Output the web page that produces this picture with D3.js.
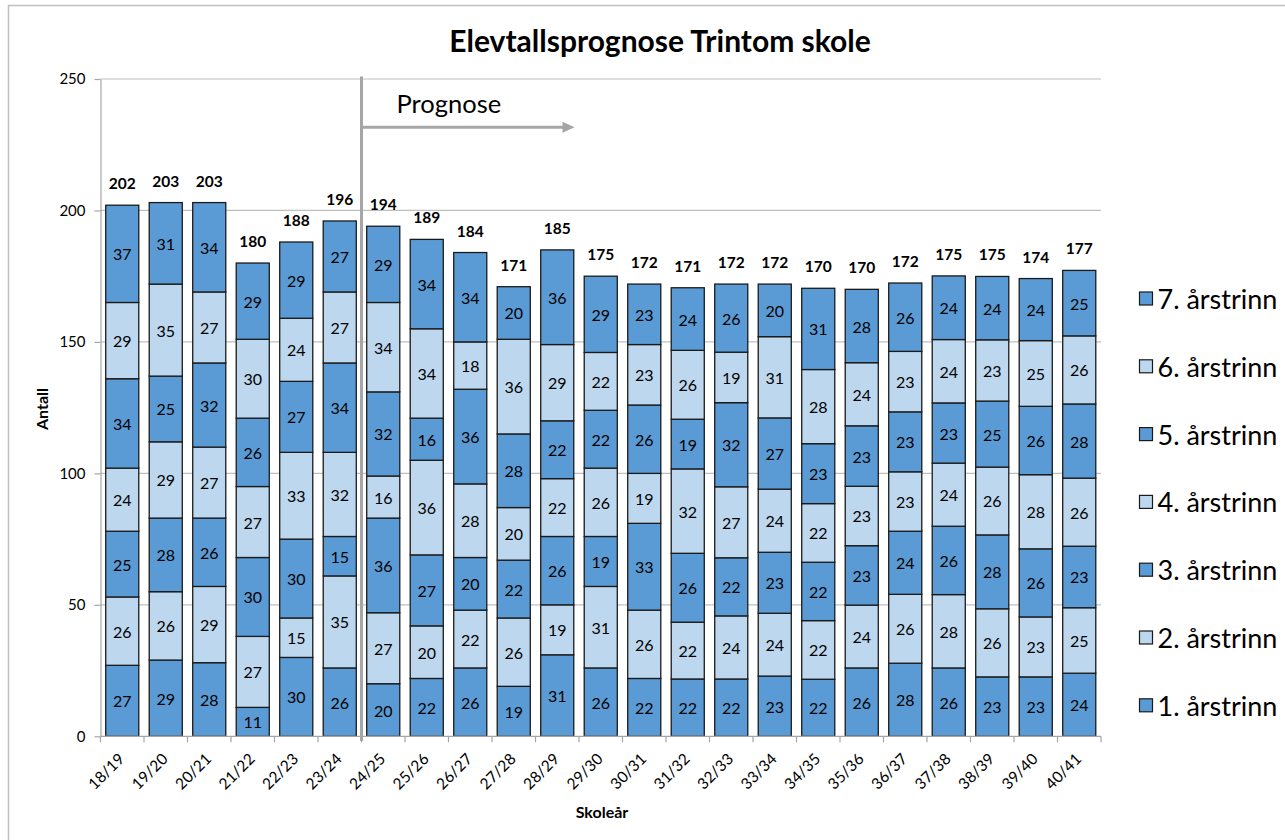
<!DOCTYPE html>
<html><head><meta charset="utf-8">
<script src="https://cdn.jsdelivr.net/npm/d3@7"></script>
<style>
body{margin:0;background:#fff}
svg{display:block}
text{font-family:Lato,"Liberation Sans",sans-serif;fill:#000}
</style>
</head><body>
<svg id="c" width="1285" height="840"></svg>
<script>
const categories = ["18/19","19/20","20/21","21/22","22/23","23/24","24/25","25/26","26/27","27/28","28/29","29/30","30/31","31/32","32/33","33/34","34/35","35/36","36/37","37/38","38/39","39/40","40/41"];
const s1 = [27,29,28,11,30,26,20,22,26,19,31,26,22,21.8,21.8,22.9,21.7,26,27.8,26,22.6,22.6,24];
const s2 = [26,26,29,27,15,35,27,20,22,26,19,31,26,21.6,24,23.9,22.3,23.9,26.2,27.9,25.9,22.8,24.9];
const s3 = [25,28,26,30,30,15,36,27,20,22,26,19,33,26.2,22.1,23.2,22.2,22.6,24,26,28.1,25.9,23.4];
const s4 = [24,29,27,27,33,32,16,36,28,20,22,26,19,32.1,27,24,22.3,22.6,22.6,24,25.8,28.2,25.9];
const s5 = [34,25,32,26,27,34,32,16,36,28,22,22,26,18.9,32,27.1,22.8,23,22.8,22.9,25.1,26,28.2];
const s6 = [29,35,27,30,24,27,34,34,18,36,29,22,23,26.2,19.2,30.9,28.2,24,23,24.1,23.3,25,25.9];
const s7 = [37,31,34,29,29,27,29,34,34,20,36,29,23,23.8,25.9,20,30.9,27.9,26,24.2,24.1,23.6,24.9];
const seriesNames = ["1. årstrinn","2. årstrinn","3. årstrinn","4. årstrinn","5. årstrinn","6. årstrinn","7. årstrinn"];
const seriesValues = [s1,s2,s3,s4,s5,s6,s7];
const seriesColors = ["#5B9BD5","#BDD7EE","#5B9BD5","#BDD7EE","#5B9BD5","#BDD7EE","#5B9BD5"];
const yTicks = [0,50,100,150,200,250];
const chartTitle = "Elevtallsprognose Trintom skole";
const yTitle = "Antall";
const xTitle = "Skoleår";
const forecastLabel = "Prognose";
const forecastStart = "24/25";

const table = categories.map((c,i)=>{const r={cat:c}; seriesNames.forEach((n,j)=>r[n]=seriesValues[j][i]); return r;});
const layers = d3.stack().keys(seriesNames)(table);
const totals = table.map(r => d3.sum(seriesNames, n => r[n]));

const svg = d3.select("#c");
const m = {left:100.5, right:1101, top:79, bottom:736.3};
const x = d3.scaleBand().domain(categories).range([m.left, m.right]).paddingInner(0.24).paddingOuter(0.12);
const y = d3.scaleLinear().domain([0,250]).range([m.bottom, m.top]);

// frame
svg.append("rect").attr("x",8.5).attr("y",5.5).attr("width",1300).attr("height",900)
  .attr("fill","#fff").attr("stroke","#BFBFBF").attr("stroke-width",1.5);

// title
svg.append("text").attr("x",660).attr("y",52).attr("text-anchor","middle")
  .style("font-weight","bold").style("font-size","30px").text(chartTitle);

// gridlines
svg.append("g").selectAll("line").data(yTicks.filter(d=>d>0)).join("line")
  .attr("x1",m.left).attr("x2",m.right).attr("y1",d=>y(d)).attr("y2",d=>y(d))
  .attr("stroke","#BFBFBF").attr("stroke-width",1.2);

// y axis
const ya = svg.append("g").attr("transform",`translate(${m.left},0)`)
  .call(d3.axisLeft(y).tickValues(yTicks).tickSize(6).tickPadding(9).tickSizeOuter(0));
ya.select(".domain").attr("stroke","#A6A6A6").attr("stroke-width",1.2);
ya.selectAll(".tick line").attr("stroke","#A6A6A6").attr("stroke-width",1.2);
ya.selectAll(".tick text").style("font-size","15px").style("font-family","Lato").attr("fill","#000");

// bars
const g = svg.append("g");
layers.forEach((layer, li) => {
  g.append("g").selectAll("rect").data(layer).join("rect")
    .attr("x", d => x(d.data.cat)).attr("width", x.bandwidth())
    .attr("y", d => y(d[1])).attr("height", d => y(d[0]) - y(d[1]))
    .attr("fill", seriesColors[li]).attr("stroke","#1a1a1a").attr("stroke-width",1.3);
});
layers.forEach((layer) => {
  g.append("g").selectAll("text").data(layer).join("text")
    .attr("x", d => x(d.data.cat) + x.bandwidth()/2)
    .attr("y", d => (y(d[0]) + y(d[1]))/2)
    .attr("text-anchor","middle").attr("dominant-baseline","central")
    .style("font-size","16px").text(d => Math.round(d[1]-d[0]));
});

// totals
svg.append("g").selectAll("text").data(table).join("text")
  .attr("x",(d)=>x(d.cat)+x.bandwidth()/2)
  .attr("y",(d,i)=>y(totals[i]) - 22)
  .attr("text-anchor","middle").attr("dominant-baseline","central")
  .style("font-size","15.5px").style("font-weight","bold")
  .text((d,i)=>Math.round(totals[i]));

// x axis
svg.append("line").attr("x1",m.left).attr("x2",m.right).attr("y1",m.bottom).attr("y2",m.bottom)
  .attr("stroke","#A6A6A6").attr("stroke-width",1.2);
svg.append("g").selectAll("line").data(d3.range(categories.length+1)).join("line")
  .attr("x1",i=>m.left + i*x.step()).attr("x2",i=>m.left + i*x.step())
  .attr("y1",m.bottom).attr("y2",m.bottom+6)
  .attr("stroke","#A6A6A6").attr("stroke-width",1.2);
svg.append("g").selectAll("text").data(categories).join("text")
  .attr("transform",d=>`translate(${x(d)+x.bandwidth()/2+3},760) rotate(-45)`)
  .attr("text-anchor","end").style("font-size","15.5px").text(d=>d);

// axis titles
svg.append("text").attr("transform","translate(47.5,409) rotate(-90)").attr("text-anchor","middle")
  .style("font-weight","bold").style("font-size","16px").text(yTitle);
svg.append("text").attr("x",602).attr("y",818).attr("text-anchor","middle")
  .style("font-weight","bold").style("font-size","16px").text(xTitle);

// forecast divider and arrow
const xd = x(forecastStart) - x.step()*x.paddingInner()/2;
svg.append("line").attr("x1",xd).attr("x2",xd).attr("y1",76.5).attr("y2",741)
  .attr("stroke","#A6A6A6").attr("stroke-width",3);
svg.append("line").attr("x1",xd).attr("x2",xd+203).attr("y1",127.3).attr("y2",127.3)
  .attr("stroke","#A6A6A6").attr("stroke-width",3);
svg.append("path").attr("d",`M${xd+201},${127.3-5.5} L${xd+213},127.3 L${xd+201},${127.3+5.5} Z`)
  .attr("fill","#A6A6A6");
svg.append("text").attr("x",xd+35).attr("y",112.7).style("font-size","25.5px").text(forecastLabel);

// legend
const legNames = seriesNames.slice().reverse();
const legColors = seriesColors.slice().reverse();
const lg = svg.append("g").selectAll("g").data(legNames).join("g")
  .attr("transform",(d,i)=>`translate(1139.5,${298.5 + i*67.8})`);
lg.append("rect").attr("x",0).attr("y",-6.5).attr("width",13).attr("height",13)
  .attr("fill",(d,i)=>legColors[i]).attr("stroke","#1a1a1a").attr("stroke-width",1.2);
lg.append("text").attr("x",18).attr("y",0).attr("dominant-baseline","central")
  .style("font-size","27px").text(d=>d);
</script>
</body></html>
